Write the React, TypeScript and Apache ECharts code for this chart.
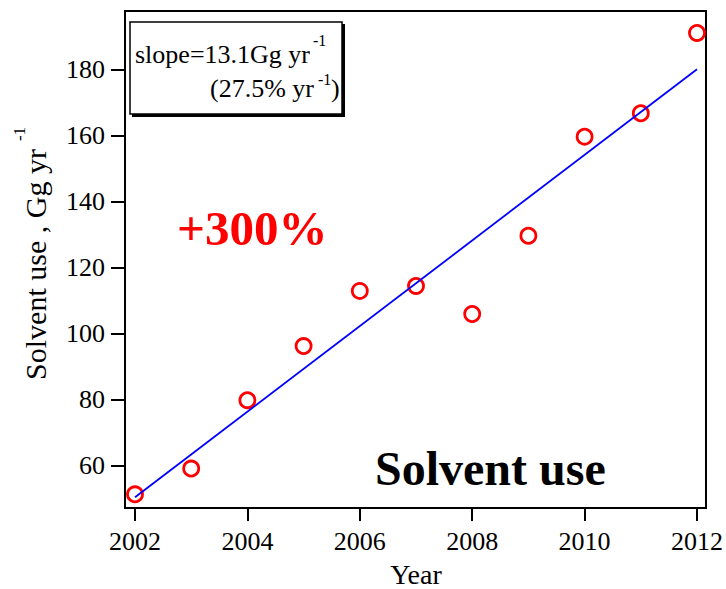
import React, { useEffect, useRef } from "react";
import * as echarts from "echarts";

const years = [2002, 2003, 2004, 2005, 2006, 2007, 2008, 2009, 2010, 2011, 2012];
const solventUse = [51.4, 59.2, 79.9, 96.3, 113.0, 114.5, 106.0, 129.7, 159.7, 166.8, 191.1];
const fitYears = [2002, 2012];
const fitValues = [50.5, 180.1];
const xTicks = [2002, 2004, 2006, 2008, 2010, 2012];
const yTicks = [60, 80, 100, 120, 140, 160, 180];

const FONT = "'Liberation Serif', 'Times New Roman', serif";

export default function App() {
  const ref = useRef<HTMLDivElement>(null);
  useEffect(() => {
    if (!ref.current) return;
    const chart = echarts.init(ref.current, undefined, { renderer: "svg" });
    const option = {
      animation: false,
      backgroundColor: "#ffffff",
      grid: {
        left: 125,
        top: 11,
        right: 19,
        bottom: 81,
        show: true,
        borderColor: "#000",
        borderWidth: 2,
        backgroundColor: "transparent",
      },
      xAxis: {
        type: "value",
        min: 2001.822,
        max: 2012.16,
        axisLine: { show: true, lineStyle: { color: "#000", width: 2 } },
        axisTick: {
          show: true,
          inside: false,
          length: 13,
          lineStyle: { color: "#000", width: 2 },
          customValues: xTicks,
        },
        axisLabel: {
          show: true,
          margin: 20,
          fontSize: 26,
          color: "#000",
          fontFamily: FONT,
          customValues: xTicks,
          formatter: (v: number) => String(Math.round(v)),
        },
        splitLine: { show: false },
      },
      yAxis: {
        type: "value",
        min: 47.26,
        max: 197.75,
        axisLine: { show: true, lineStyle: { color: "#000", width: 2 } },
        axisTick: {
          show: true,
          inside: false,
          length: 14,
          lineStyle: { color: "#000", width: 2 },
          customValues: yTicks,
        },
        axisLabel: {
          show: true,
          margin: 20,
          fontSize: 26,
          color: "#000",
          fontFamily: FONT,
          customValues: yTicks,
          formatter: (v: number) => String(Math.round(v)),
        },
        splitLine: { show: false },
      },
      series: [
        {
          type: "scatter",
          data: years.map((y, i) => [y, solventUse[i]]),
          symbol: "circle",
          symbolSize: 15,
          itemStyle: { color: "rgba(0,0,0,0)", borderColor: "#ff0000", borderWidth: 2.8, opacity: 1 },
          z: 2,
        },
        {
          type: "line",
          data: fitYears.map((y, i) => [y, fitValues[i]]),
          showSymbol: false,
          symbol: "none",
          lineStyle: { color: "#0000ff", width: 1.8 },
          z: 3,
        },
      ],
      graphic: [
        {
          type: "rect",
          shape: { x: 132, y: 24, width: 213, height: 93 },
          style: { fill: "#000" },
          z: 10,
        },
        {
          type: "rect",
          shape: { x: 130, y: 22, width: 212, height: 92 },
          style: { fill: "#fff", stroke: "#000", lineWidth: 1.5 },
          z: 11,
        },
        {
          type: "text",
          x: 135,
          y: 54.5,
          z: 12,
          style: { text: "slope=13.1Gg yr", fontSize: 26, fontFamily: FONT, fill: "#000", textAlign: "left", textVerticalAlign: "middle" },
        },
        {
          type: "text",
          x: 313,
          y: 40,
          z: 12,
          style: { text: "-1", fontSize: 16, fontFamily: FONT, fill: "#000", textAlign: "left", textVerticalAlign: "middle" },
        },
        {
          type: "text",
          x: 314,
          y: 88.5,
          z: 12,
          style: { text: "(27.5% yr", fontSize: 26, fontFamily: FONT, fill: "#000", textAlign: "right", textVerticalAlign: "middle" },
        },
        {
          type: "text",
          x: 318,
          y: 79,
          z: 12,
          style: { text: "-1", fontSize: 16, fontFamily: FONT, fill: "#000", textAlign: "left", textVerticalAlign: "middle" },
        },
        {
          type: "text",
          x: 331,
          y: 88.5,
          z: 12,
          style: { text: ")", fontSize: 26, fontFamily: FONT, fill: "#000", textAlign: "left", textVerticalAlign: "middle" },
        },
        {
          type: "text",
          x: 177,
          y: 228.5,
          z: 12,
          style: { text: "+300%", fontSize: 49, fontWeight: "bold", fontFamily: FONT, fill: "#ff0000", textAlign: "left", textVerticalAlign: "middle" },
        },
        {
          type: "text",
          x: 375,
          y: 468.5,
          z: 12,
          style: { text: "Solvent use", fontSize: 48, fontWeight: "bold", fontFamily: FONT, fill: "#000", textAlign: "left", textVerticalAlign: "middle" },
        },
        {
          type: "text",
          x: 416,
          y: 574.5,
          z: 12,
          style: { text: "Year", fontSize: 28, fontFamily: FONT, fill: "#000", textAlign: "center", textVerticalAlign: "middle" },
        },
        {
          type: "text",
          x: 35,
          y: 264.5,
          rotation: Math.PI / 2,
          z: 12,
          style: { text: "Solvent use , Gg yr", fontSize: 30, fontFamily: FONT, fill: "#000", textAlign: "center", textVerticalAlign: "middle" },
        },
        {
          type: "text",
          x: 19,
          y: 134,
          rotation: Math.PI / 2,
          z: 12,
          style: { text: "-1", fontSize: 17, fontFamily: FONT, fill: "#000", textAlign: "center", textVerticalAlign: "middle" },
        },
      ],
    };
    chart.setOption(option as any);
    return () => chart.dispose();
  }, []);
  return (
    <div
      ref={ref}
      style={{ position: "absolute", left: 0, top: 0, width: 726, height: 589 }}
    />
  );
}
